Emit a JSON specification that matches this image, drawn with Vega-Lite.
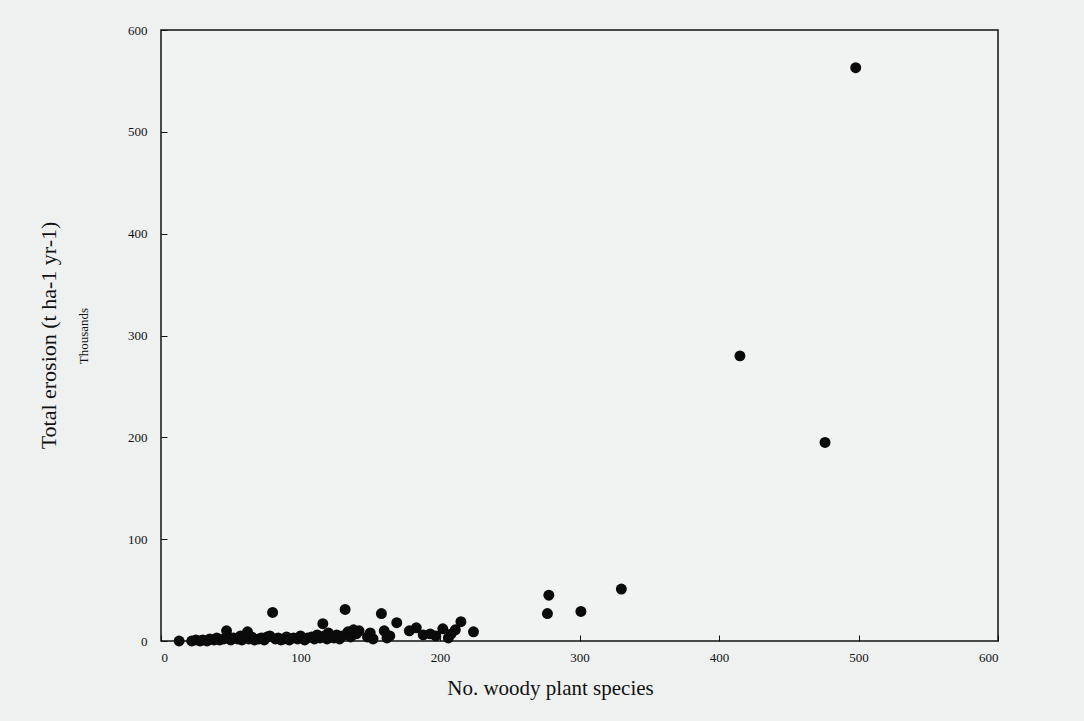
{
  "$schema": "https://vega.github.io/schema/vega-lite/v6.json",
  "width": 837,
  "height": 611,
  "autosize": {"type": "none"},
  "padding": {"left": 161, "top": 30, "right": 86, "bottom": 80},
  "background": "#eff1f1",
  "title": {
    "text": "Total erosion (t ha-1 yr-1)",
    "orient": "left",
    "anchor": "middle",
    "font": "Liberation Serif",
    "fontSize": 22,
    "fontWeight": "normal",
    "color": "#111",
    "offset": 17
  },
  "data": {
    "values": [
      {"species": 13, "erosion": 0}, {"species": 22, "erosion": 0}, {"species": 25, "erosion": 1},
      {"species": 28, "erosion": 0}, {"species": 30, "erosion": 1}, {"species": 33, "erosion": 0},
      {"species": 35, "erosion": 2}, {"species": 38, "erosion": 1}, {"species": 40, "erosion": 3},
      {"species": 42, "erosion": 1}, {"species": 45, "erosion": 2}, {"species": 47, "erosion": 10},
      {"species": 48, "erosion": 4}, {"species": 50, "erosion": 1}, {"species": 52, "erosion": 3},
      {"species": 55, "erosion": 2}, {"species": 57, "erosion": 5}, {"species": 58, "erosion": 1},
      {"species": 60, "erosion": 3}, {"species": 62, "erosion": 9}, {"species": 63, "erosion": 2},
      {"species": 65, "erosion": 4}, {"species": 67, "erosion": 1}, {"species": 70, "erosion": 2},
      {"species": 72, "erosion": 3}, {"species": 74, "erosion": 1}, {"species": 76, "erosion": 4},
      {"species": 78, "erosion": 5}, {"species": 80, "erosion": 28}, {"species": 82, "erosion": 2},
      {"species": 84, "erosion": 3}, {"species": 86, "erosion": 1}, {"species": 88, "erosion": 2},
      {"species": 90, "erosion": 4}, {"species": 92, "erosion": 1}, {"species": 95, "erosion": 3},
      {"species": 98, "erosion": 2}, {"species": 100, "erosion": 5}, {"species": 103, "erosion": 1},
      {"species": 105, "erosion": 3}, {"species": 108, "erosion": 4}, {"species": 110, "erosion": 2},
      {"species": 112, "erosion": 6}, {"species": 114, "erosion": 3}, {"species": 116, "erosion": 17},
      {"species": 117, "erosion": 5}, {"species": 119, "erosion": 2}, {"species": 120, "erosion": 8},
      {"species": 122, "erosion": 4}, {"species": 124, "erosion": 3}, {"species": 126, "erosion": 6},
      {"species": 128, "erosion": 2}, {"species": 130, "erosion": 5}, {"species": 132, "erosion": 31},
      {"species": 134, "erosion": 9}, {"species": 136, "erosion": 4}, {"species": 138, "erosion": 11},
      {"species": 140, "erosion": 7}, {"species": 142, "erosion": 10}, {"species": 148, "erosion": 4},
      {"species": 150, "erosion": 8}, {"species": 152, "erosion": 2}, {"species": 158, "erosion": 27},
      {"species": 160, "erosion": 10}, {"species": 162, "erosion": 3}, {"species": 164, "erosion": 5},
      {"species": 169, "erosion": 18}, {"species": 178, "erosion": 10}, {"species": 183, "erosion": 13},
      {"species": 188, "erosion": 6}, {"species": 193, "erosion": 7}, {"species": 197, "erosion": 5},
      {"species": 202, "erosion": 12}, {"species": 206, "erosion": 3}, {"species": 208, "erosion": 7},
      {"species": 211, "erosion": 11}, {"species": 215, "erosion": 19}, {"species": 224, "erosion": 9},
      {"species": 277, "erosion": 27}, {"species": 278, "erosion": 45}, {"species": 301, "erosion": 29},
      {"species": 330, "erosion": 51}, {"species": 415, "erosion": 280}, {"species": 476, "erosion": 195},
      {"species": 498, "erosion": 563}
    ]
  },
  "mark": {"type": "circle", "size": 120, "color": "#0a0a0a", "opacity": 1},
  "encoding": {
    "x": {
      "field": "species",
      "type": "quantitative",
      "scale": {"domain": [0, 600], "nice": false, "zero": true},
      "axis": {
        "title": "No. woody plant species",
        "values": [0, 100, 200, 300, 400, 500, 600],
        "tickSize": -6,
        "labelPadding": 16,
        "titlePadding": 13,
        "titleFontSize": 21,
        "titleX": 389
      }
    },
    "y": {
      "field": "erosion",
      "type": "quantitative",
      "scale": {"domain": [0, 600], "nice": false},
      "axis": {
        "title": "Thousands",
        "values": [0, 100, 200, 300, 400, 500, 600],
        "tickSize": -6,
        "labelPadding": 20,
        "titlePadding": 37,
        "titleFontSize": 13
      }
    }
  },
  "config": {
    "view": {"stroke": "#111", "strokeWidth": 1.5, "fill": "#f1f3f3"},
    "axis": {
      "grid": false,
      "domain": false,
      "tickColor": "#111",
      "tickWidth": 1,
      "labelFont": "Liberation Serif",
      "labelFontSize": 13,
      "labelColor": "#111",
      "titleFont": "Liberation Serif",
      "titleFontWeight": "normal",
      "titleColor": "#111"
    }
  }
}
